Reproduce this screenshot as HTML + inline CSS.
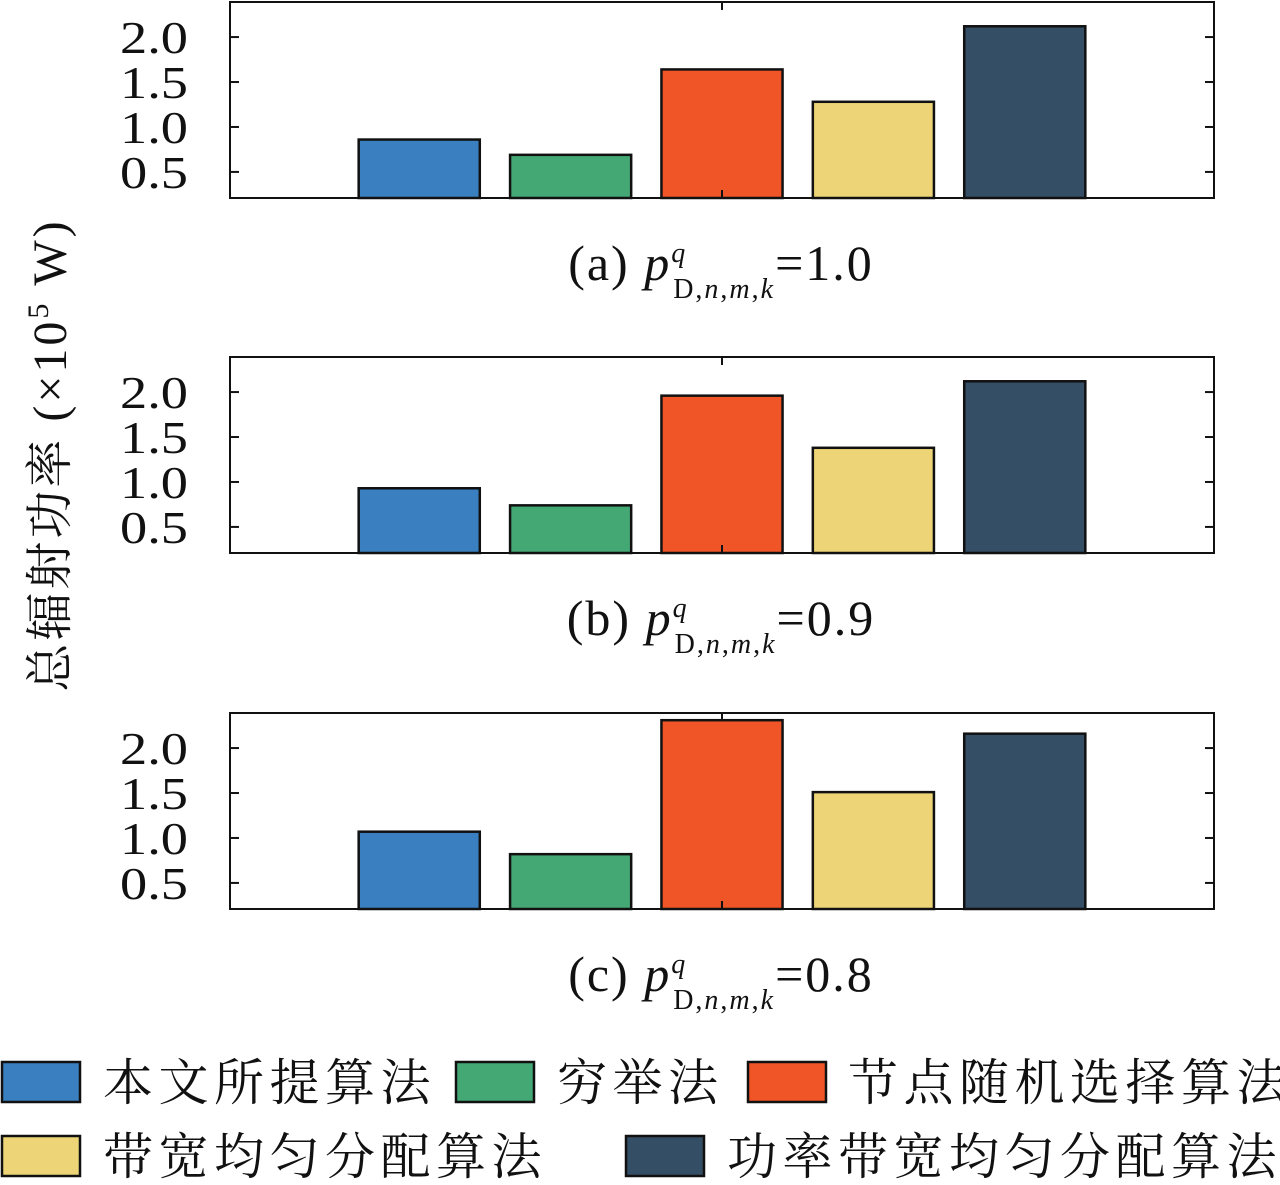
<!DOCTYPE html>
<html><head><meta charset="utf-8"><style>
body{margin:0;background:#fff;}
svg{display:block;}
text{font-family:"Liberation Serif","Noto Serif CJK SC",serif;fill:#111;}
.cjk{font-family:"Liberation Serif","Noto Serif CJK SC","Noto Sans CJK SC",serif;}
</style></head><body>
<svg id="chart" width="1280" height="1185" viewBox="0 0 1280 1185">
<text class="cjk" transform="translate(66,455) rotate(-90)" text-anchor="middle" font-size="48" letter-spacing="3">总辐射功率 (×10<tspan font-size="30" dy="-18">5</tspan><tspan dy="18"> W)</tspan></text>
<g id="legend"></g>
</svg>
<script>
const categories = ["本文所提算法","穷举法","节点随机选择算法","带宽均匀分配算法","功率带宽均匀分配算法"];
const colors = ["#3a80c0","#44a875","#f05528","#edd577","#344e66"];
const panelLabels = ["(a)","(b)","(c)"];
const panelP = ["1.0","0.9","0.8"];
const valuesA = [0.86,0.69,1.64,1.28,2.12];
const valuesB = [0.93,0.74,1.96,1.38,2.12];
const valuesC = [1.07,0.82,2.31,1.51,2.16];
const yTicks = [0.5,1.0,1.5,2.0];
const tickLabels = ["0.5","1.0","1.5","2.0"];
const panelValues = [valuesA,valuesB,valuesC];

const NS="http://www.w3.org/2000/svg";
const svg=document.getElementById('chart');
function mk(tag,attrs,parent){const e=document.createElementNS(NS,tag);for(const k in attrs)e.setAttribute(k,attrs[k]);(parent||svg).appendChild(e);return e;}
const L=230,R=1214,H=196,tops=[2,357,713];
const xmin=-1.25,xmax=5.25,ymin=0.21,ymax=2.39;
const xs=i=>L+(i-xmin)/(xmax-xmin)*(R-L);
const bw=0.8*(R-L)/(xmax-xmin);
panelValues.forEach((vals,p)=>{
  const T=tops[p],B=T+H;
  const ys=v=>B-(v-ymin)/(ymax-ymin)*H;
  const g=mk('g',{});
  
  
  vals.forEach((v,i)=>{
    const r=mk('rect',{x:xs(i)-bw/2,y:ys(v),width:bw,height:B-ys(v),fill:colors[i],stroke:'#111','stroke-width':2.5},g);
    
    
  });
  const f=mk('rect',{x:L,y:T,width:R-L,height:H,fill:'none',stroke:'#111','stroke-width':2},g);
  
  
  mk('line',{x1:xs(2),x2:xs(2),y1:T,y2:T+8,stroke:'#111','stroke-width':2},g);
  mk('line',{x1:xs(2),x2:xs(2),y1:B,y2:B-8,stroke:'#111','stroke-width':2},g);
  yTicks.forEach((t,k)=>{
    const y=ys(t);
    mk('line',{x1:L,x2:L+9,y1:y,y2:y,stroke:'#111','stroke-width':2},g);
    mk('line',{x1:R,x2:R-9,y1:y,y2:y,stroke:'#111','stroke-width':2},g);
    const tx=mk('text',{x:120,y:y+16,'font-size':46,textLength:68,lengthAdjust:'spacingAndGlyphs'},g);
    tx.textContent=tickLabels[k];
    
    
  });
  const cap=mk('text',{x:721,y:B+82,'text-anchor':'middle','font-size':50,'letter-spacing':2},g);
  cap.innerHTML=panelLabels[p]+'  <tspan font-style="italic">p</tspan><tspan font-size="28" font-style="italic" dy="-18">q</tspan><tspan font-size="28" dx="-14" dy="36">D,<tspan font-style="italic">n</tspan>,<tspan font-style="italic">m</tspan>,<tspan font-style="italic">k</tspan></tspan><tspan dy="-18">='+panelP[p]+'</tspan>';
  
  
});
const lg=document.getElementById('legend');
const legPos=[[2,1062,103],[456,1062,557],[748,1062,848],[2,1136,103],[626,1136,727]];
categories.forEach((c,i)=>{
  const [bx,by,tx]=legPos[i];
  const r=mk('rect',{x:bx,y:by,width:78,height:40,fill:colors[i],stroke:'#111','stroke-width':2.5},lg);
  
  
  const t=mk('text',{x:tx,y:by+38,'font-size':50,'class':'cjk','letter-spacing':5.5},lg);
  t.textContent=c;
  
  
});
</script>
</body></html>
